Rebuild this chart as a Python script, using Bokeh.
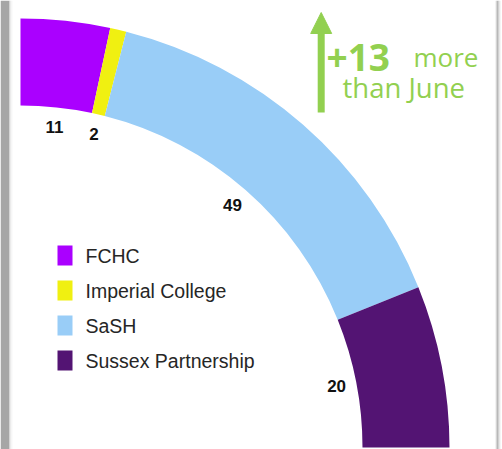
import numpy as np
from bokeh.plotting import figure
from bokeh.models import ColumnDataSource, Range1d, Arrow, NormalHead
from bokeh.core.properties import value
from bokeh.embed import file_html
from bokeh.resources import INLINE

# ---- data ----
categories = ["FCHC", "Imperial College", "SaSH", "Sussex Partnership"]
counts = [11, 2, 49, 20]
colors = ["#aa00ff", "#f0f011", "#99cdf7", "#531473"]
headline_number = "+13"
headline_word = "more"
headline_line2 = "than June"

# ---- layout constants (pixels) ----
W, H = 502, 449
cx, cy = 20, H - 447
r_in, r_out, r_lab = 342, 429, 322
green = "#92d050"

vals = np.array(counts, dtype=float)
frac = vals / vals.sum()
cum_end = np.cumsum(frac)
cum_start = cum_end - frac
span = np.pi / 2
start = np.pi / 2 - cum_end * span
end = np.pi / 2 - cum_start * span
mid = (start + end) / 2

src = ColumnDataSource(dict(
    cat=categories, val=[str(v) for v in counts], color=colors,
    start=start, end=end,
    lx=cx + r_lab * np.cos(mid), ly=cy + r_lab * np.sin(mid),
    gx=[64.5] * len(categories),
    gy=[H - 255 - 35 * i for i in range(len(categories))],
    tx=[85] * len(categories),
))

p = figure(width=W, height=H, x_range=Range1d(0, W), y_range=Range1d(0, H),
           min_border=0, toolbar_location=None, output_backend="svg",
           outline_line_color=None, background_fill_color="white",
           border_fill_color="white")
p.axis.visible = False
p.grid.visible = False
p.styles = {"position": "absolute", "left": "0px", "top": "0px"}

# frame shading strips
p.quad(left=[0, 9, 10, 11], right=[9, 10, 11, 12], bottom=0, top=H,
       color=["#a6a6a6", "#d6d6d6", "#ebebeb", "#f7f7f7"], line_color=None)
p.quad(left=[495, 496, 498, 499], right=[496, 498, 499, 500], bottom=0, top=H,
       color=["#e6e6e6", "#b8b8b8", "#c8c8c8", "#ececec"], line_color=None)

p.annular_wedge(x=cx, y=cy, inner_radius=r_in, outer_radius=r_out,
                start_angle="start", end_angle="end", color="color",
                line_color=None, source=src)

p.text(x="lx", y="ly", text="val", source=src, text_align="center",
       text_baseline="middle", text_font=value("Liberation Sans"),
       text_font_style="bold", text_font_size="17px", text_color="#111111")

# legend
p.rect(x="gx", y="gy", width=15, height=20, color="color", line_color=None, source=src)
p.text(x="tx", y="gy", text="cat", source=src, text_align="left",
       text_baseline="middle", text_font=value("Liberation Sans"),
       text_font_size="19.5px", text_color="#262626")

# headline
p.text(x=[326], y=[H - 56.5], text=[headline_number], text_font=value("Open Sans"),
       text_font_style="bold", text_font_size="37px", text_color=green,
       text_baseline="alphabetic", text_align="left")
p.text(x=[413], y=[H - 56.5], text=[headline_word], text_font=value("Open Sans"),
       text_font_size="26px", text_color=green,
       text_baseline="alphabetic", text_align="left")
p.text(x=[342], y=[H - 86.5], text=[headline_line2], text_font=value("Open Sans"),
       text_font_size="27.5px", text_color=green,
       text_baseline="alphabetic", text_align="left")

p.add_layout(Arrow(end=NormalHead(size=21, fill_color=green, line_color=green, line_width=1),
                   x_start=320.7, y_start=H - 112, x_end=320.7, y_end=H - 12,
                   line_color=green, line_width=7))

open("out.html", "w").write(file_html(p, INLINE))
